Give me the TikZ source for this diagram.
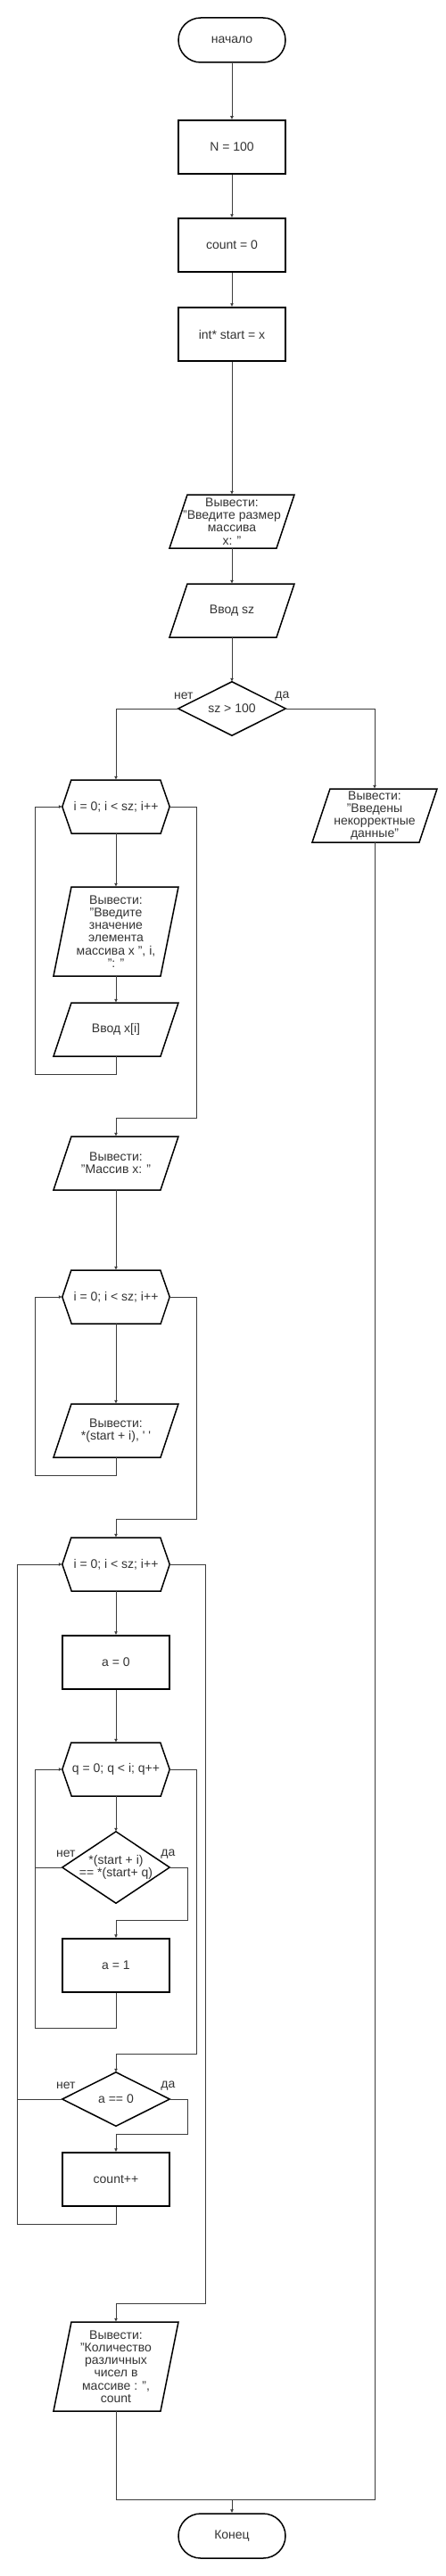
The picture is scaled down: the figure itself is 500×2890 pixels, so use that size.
\documentclass[tikz,border=0pt]{standalone}
\usepackage{fontspec}
\setmainfont{Liberation Sans}
\usetikzlibrary{arrows.meta}
\definecolor{txt}{HTML}{333333}
\definecolor{lnk}{HTML}{3C3C3C}

\begin{document}
\begin{tikzpicture}[x=1pt, y=-1pt,
	font=\fontsize{14pt}{14.2pt}\selectfont,
	term/.style = {draw, line width=1.5pt, rounded corners=25pt, minimum width=120pt, minimum height=50pt, inner sep=0pt, text=txt},
	proc/.style = {draw, line width=1.5pt, minimum width=120pt, minimum height=60pt, inner sep=0pt, text=txt},
	blank/.style = {minimum width=120pt, minimum height=60pt, inner sep=0pt, align=center, text=txt},
	tall/.style = {blank, minimum height=100pt},
	cond/.style = {blank, minimum height=80pt},
	shp/.style = {draw, line width=1.5pt},
	link/.style = {draw=lnk, line width=1pt},
	arr/.style = {link, -{Latex[length=4pt, width=4pt]}},
	lbl/.style = {inner sep=0pt, text=txt}]
		\path[use as bounding box, fill=white] (0,0) rectangle (500,2890);
		%Blocks
		\node[term] (start) at (260,45) {начало};
		\node[proc] (n) at (260,165) {N = 100};
		\node[proc] (cnt) at (260,275) {count = 0};
		\node[proc] (ptr) at (260,375) {int* start = x};
		\node[blank] (ask) at (260,585) {Вывести:\\"Введите размер\\массива\\x: "};
		\node[blank] (insz) at (260,685) {Ввод sz};
		\node[blank] (chk) at (260,795) {sz > 100};
		\node[blank] (err) at (420,915) {Вывести:\\"Введены\\некорректные\\данные"};
		\node[blank] (for1) at (130,905) {i = 0; i < sz; i++};
		\node[tall] (msg1) at (130,1045) {Вывести:\\"Введите\\значение\\элемента\\массива x ", i,\\": "};
		\node[blank] (in1) at (130,1155) {Ввод x[i]};
		\node[blank] (out1) at (130,1305) {Вывести:\\"Массив x: "};
		\node[blank] (for2) at (130,1455) {i = 0; i < sz; i++};
		\node[blank] (out2) at (130,1605) {Вывести:\\{}*(start + i), \textquotesingle\ \textquotesingle};
		\node[blank] (for3) at (130,1755) {i = 0; i < sz; i++};
		\node[proc] (a0) at (130,1865) {a = 0};
		\node[blank] (for4) at (130,1985) {q = 0; q < i; q++};
		\node[cond] (eq) at (130,2095) {*(start + i)\\== *(start+ q)};
		\node[proc] (a1) at (130,2205) {a = 1};
		\node[blank] (ok) at (130,2355) {a == 0};
		\node[proc] (inc) at (130,2445) {count++};
		\node[tall] (res) at (130,2655) {Вывести:\\"Количество\\различных\\чисел в\\массиве : ",\\count};
		\node[term] (stop) at (260,2845) {Конец};
		% Labels
		\node[lbl, anchor=east] (no1) at ([xshift=17pt, yshift=14pt]chk.west) {нет};
		\node[lbl, anchor=west] (yes1) at ([xshift=-12pt, yshift=14pt]chk.east) {да};
		\node[lbl, anchor=east] (no2) at ([xshift=15pt, yshift=15pt]eq.west) {нет};
		\node[lbl, anchor=west] (yes2) at ([xshift=-10pt, yshift=15pt]eq.east) {да};
		\node[lbl, anchor=east] (no3) at ([xshift=15pt, yshift=15pt]ok.west) {нет};
		\node[lbl, anchor=west] (yes3) at ([xshift=-10pt, yshift=15pt]ok.east) {да};
		% Outlines
		\draw[shp] (ask.center) ++(-50,-30) -- ++(120,0) -- ++(-20,60) -- ++(-120,0) -- cycle;
		\draw[shp] (insz.center) ++(-50,-30) -- ++(120,0) -- ++(-20,60) -- ++(-120,0) -- cycle;
		\draw[shp] (err.center) ++(-50,-30) -- ++(120,0) -- ++(-20,60) -- ++(-120,0) -- cycle;
		\draw[shp] (msg1.center) ++(-50,-50) -- ++(120,0) -- ++(-20,100) -- ++(-120,0) -- cycle;
		\draw[shp] (in1.center) ++(-50,-30) -- ++(120,0) -- ++(-20,60) -- ++(-120,0) -- cycle;
		\draw[shp] (out1.center) ++(-50,-30) -- ++(120,0) -- ++(-20,60) -- ++(-120,0) -- cycle;
		\draw[shp] (out2.center) ++(-50,-30) -- ++(120,0) -- ++(-20,60) -- ++(-120,0) -- cycle;
		\draw[shp] (res.center) ++(-50,-50) -- ++(120,0) -- ++(-20,100) -- ++(-120,0) -- cycle;
		\draw[shp] (for1.west) -- ++(10,-30) -- ++(100,0) -- (for1.east) -- ++(-10,30) -- ++(-100,0) -- cycle;
		\draw[shp] (for2.west) -- ++(10,-30) -- ++(100,0) -- (for2.east) -- ++(-10,30) -- ++(-100,0) -- cycle;
		\draw[shp] (for3.west) -- ++(10,-30) -- ++(100,0) -- (for3.east) -- ++(-10,30) -- ++(-100,0) -- cycle;
		\draw[shp] (for4.west) -- ++(10,-30) -- ++(100,0) -- (for4.east) -- ++(-10,30) -- ++(-100,0) -- cycle;
		\draw[shp] (chk.west) -- (chk.north) -- (chk.east) -- (chk.south) -- cycle;
		\draw[shp] (eq.west) -- (eq.north) -- (eq.east) -- (eq.south) -- cycle;
		\draw[shp] (ok.west) -- (ok.north) -- (ok.east) -- (ok.south) -- cycle;
		% Links
		\draw[arr] (start) -- (n);
		\draw[arr] (n) -- (cnt);
		\draw[arr] (cnt) -- (ptr);
		\draw[arr] (ptr) -- (ask);
		\draw[arr] (ask) -- (insz);
		\draw[arr] (insz) -- (chk);
		\draw[arr] (chk.west) -| (for1.north);		% no
		\draw[arr] (chk.east) -| (err.north);		% yes
		\draw[arr] (for1) -- (msg1);
		\draw[arr] (msg1) -- (in1);
		\draw[arr] (in1.south) -- ++(0,20) -| ([xshift=-30pt]for1.west) -- (for1.west);
		\draw[arr] (for1.east) -- ++(30,0) |- ([yshift=20pt]out1.north) -- (out1.north);
		\draw[arr] (out1) -- (for2);
		\draw[arr] (for2) -- (out2);
		\draw[arr] (out2.south) -- ++(0,20) -| ([xshift=-30pt]for2.west) -- (for2.west);
		\draw[arr] (for2.east) -- ++(30,0) |- ([yshift=20pt]for3.north) -- (for3.north);
		\draw[arr] (for3) -- (a0);
		\draw[arr] (a0) -- (for4);
		\draw[arr] (for4) -- (eq);
		\draw[arr] (eq.east) -- ++(20,0) |- ([yshift=20pt]a1.north) -- (a1.north);	% yes
		\draw[link] (eq.west) -- ++(-30,0);						% no
		\draw[arr] (a1.south) -- ++(0,40) -| ([xshift=-30pt]for4.west) -- (for4.west);
		\draw[arr] (for4.east) -- ++(30,0) |- ([yshift=20pt]ok.north) -- (ok.north);
		\draw[arr] (ok.east) -- ++(20,0) |- ([yshift=20pt]inc.north) -- (inc.north);	% yes
		\draw[link] (ok.west) -- ++(-50,0);						% no
		\draw[arr] (inc.south) -- ++(0,20) -| ([xshift=-50pt]for3.west) -- (for3.west);
		\draw[arr] (for3.east) -- ++(40,0) |- ([yshift=20pt]res.north) -- (res.north);
		\coordinate (join) at ([yshift=15pt]stop.north);
		\draw[link] (res.south) |- (join);
		\draw[link] (err.south) |- (join);
		\draw[arr] (join) -- (stop.north);
\end{tikzpicture}
\end{document}
